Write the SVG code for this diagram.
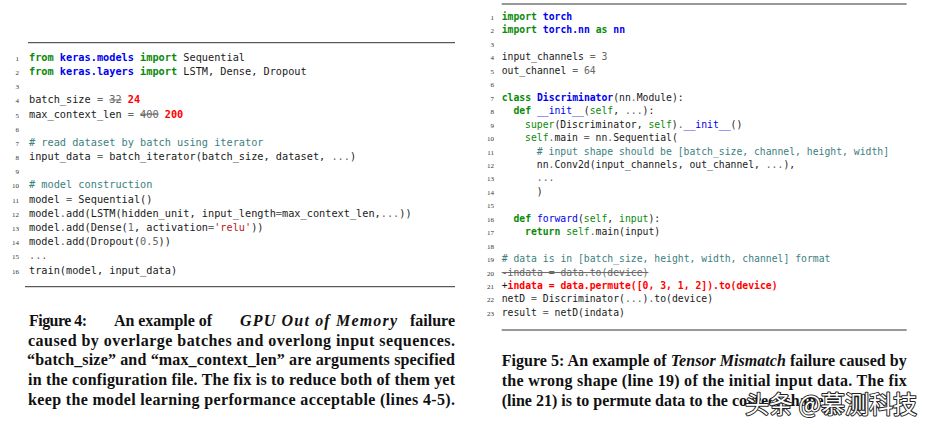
<svg xmlns="http://www.w3.org/2000/svg" width="927" height="428" viewBox="0 0 927 428">
<style>
.c{font-family:"DejaVu Sans Mono","Liberation Mono",monospace;fill:#1a1a1a}
.l{font-size:10.25px}
.r{font-size:9.75px}
.kw{fill:#0a8a0a;font-weight:bold}
.nm{fill:#0000ee;font-weight:bold}
.fn{fill:#0000ee}
.bi{fill:#0a8a0a}
.op{fill:#666}
.cm{fill:#3d8080}
.st{fill:#ba2121}
.red{fill:#ff0000;font-weight:bold}
.del{fill:#666;text-decoration:line-through}
.ln{font-family:"Liberation Serif",serif;font-size:7px;fill:#333;text-anchor:end}
.rule{stroke:#333;stroke-width:1}
.cap{font-family:"Liberation Serif","Times New Roman",serif;font-size:16px;font-weight:bold;fill:#111}
.it{font-style:italic}
.wm{font-family:"Noto Sans CJK SC","Noto Sans",sans-serif;font-size:24px;fill:#fff;stroke:#222;stroke-width:2;paint-order:stroke;stroke-linejoin:round}
</style>
<rect width="927" height="428" fill="#fff"/>

<g id="listing-left">
<line class="rule" x1="28" y1="42.7" x2="455" y2="42.7"/>
<line class="rule" x1="25" y1="286.7" x2="455" y2="286.7"/>
<g class="ln">
<text x="19" y="60.8">1</text><text x="19" y="75">2</text><text x="19" y="89.2">3</text><text x="19" y="103.3">4</text>
<text x="19" y="117.5">5</text><text x="19" y="131.7">6</text><text x="19" y="145.9">7</text><text x="19" y="160.1">8</text>
<text x="19" y="174.2">9</text><text x="19" y="188.4">10</text><text x="19" y="202.6">11</text><text x="19" y="216.8">12</text>
<text x="19" y="231">13</text><text x="19" y="245.1">14</text><text x="19" y="259.3">15</text><text x="19" y="273.5">16</text>
</g>
<g class="c l">
<text x="29" y="60.8"><tspan class="kw">from</tspan> <tspan class="nm">keras.models</tspan> <tspan class="kw">import</tspan> Sequential</text>
<text x="29" y="75"><tspan class="kw">from</tspan> <tspan class="nm">keras.layers</tspan> <tspan class="kw">import</tspan> LSTM, Dense, Dropout</text>
<text x="29" y="103.3">batch_size <tspan class="op">=</tspan> <tspan class="del">32</tspan> <tspan class="red">24</tspan></text>
<text x="29" y="117.5">max_context_len <tspan class="op">=</tspan> <tspan class="del">400</tspan> <tspan class="red">200</tspan></text>
<text x="29" y="145.9" class="cm"># read dataset by batch using iterator</text>
<text x="29" y="160.1">input_data <tspan class="op">=</tspan> batch_iterator(batch_size, dataset, <tspan class="op">...</tspan>)</text>
<text x="29" y="188.4" class="cm"># model construction</text>
<text x="29" y="202.6">model <tspan class="op">=</tspan> Sequential()</text>
<text x="29" y="216.8">model<tspan class="op">.</tspan>add(LSTM(hidden_unit, input_length<tspan class="op">=</tspan>max_context_len,<tspan class="op">...</tspan>))</text>
<text x="29" y="231">model<tspan class="op">.</tspan>add(Dense(<tspan class="op">1</tspan>, activation<tspan class="op">=</tspan><tspan class="st">'relu'</tspan>))</text>
<text x="29" y="245.1">model<tspan class="op">.</tspan>add(Dropout(<tspan class="op">0.5</tspan>))</text>
<text x="29" y="259.3" class="op">...</text>
<text x="29" y="273.5">train(model, input_data)</text>
</g>
</g>

<g id="listing-right">
<line class="rule" x1="501.7" y1="4" x2="906.7" y2="4"/>
<line class="rule" x1="501.7" y1="330" x2="906.7" y2="330"/>
<g class="ln">
<text x="494" y="20">1</text><text x="494" y="33.45">2</text><text x="494" y="46.9">3</text><text x="494" y="60.35">4</text>
<text x="494" y="73.8">5</text><text x="494" y="87.25">6</text><text x="494" y="100.7">7</text><text x="494" y="114.15">8</text>
<text x="494" y="127.6">9</text><text x="494" y="141.05">10</text><text x="494" y="154.5">11</text><text x="494" y="167.95">12</text>
<text x="494" y="181.4">13</text><text x="494" y="194.85">14</text><text x="494" y="208.3">15</text><text x="494" y="221.75">16</text>
<text x="494" y="235.2">17</text><text x="494" y="248.65">18</text><text x="494" y="262.1">19</text><text x="494" y="275.55">20</text>
<text x="494" y="289">21</text><text x="494" y="302.45">22</text><text x="494" y="315.9">23</text>
</g>
<g class="c r">
<text x="501.7" y="20"><tspan class="kw">import</tspan> <tspan class="nm">torch</tspan></text>
<text x="501.7" y="33.45"><tspan class="kw">import</tspan> <tspan class="nm">torch.nn</tspan> <tspan class="kw">as</tspan> <tspan class="nm">nn</tspan></text>
<text x="501.7" y="60.35">input_channels <tspan class="op">=</tspan> <tspan class="op">3</tspan></text>
<text x="501.7" y="73.8">out_channel <tspan class="op">=</tspan> <tspan class="op">64</tspan></text>
<text x="501.7" y="100.7"><tspan class="kw">class</tspan> <tspan class="nm">Discriminator</tspan>(nn<tspan class="op">.</tspan>Module):</text>
<text x="513.4" y="114.15"><tspan class="kw">def</tspan> <tspan class="fn">__init__</tspan>(<tspan class="bi">self</tspan>, <tspan class="op">...</tspan>):</text>
<text x="525.1" y="127.6"><tspan class="bi">super</tspan>(Discriminator, <tspan class="bi">self</tspan>)<tspan class="op">.</tspan><tspan class="fn">__init__</tspan>()</text>
<text x="525.1" y="141.05"><tspan class="bi">self</tspan><tspan class="op">.</tspan>main <tspan class="op">=</tspan> nn<tspan class="op">.</tspan>Sequential(</text>
<text x="536.8" y="154.5" class="cm"># input shape should be [batch_size, channel, height, width]</text>
<text x="536.8" y="167.95">nn<tspan class="op">.</tspan>Conv2d(input_channels, out_channel, <tspan class="op">...</tspan>),</text>
<text x="536.8" y="181.4" class="op">...</text>
<text x="536.8" y="194.85">)</text>
<text x="513.4" y="221.75"><tspan class="kw">def</tspan> <tspan class="fn">forward</tspan>(<tspan class="bi">self</tspan>, <tspan class="bi">input</tspan>):</text>
<text x="525.1" y="235.2"><tspan class="kw">return</tspan> <tspan class="bi">self</tspan><tspan class="op">.</tspan>main(input)</text>
<text x="501.7" y="262.1" class="cm"># data is in [batch_size, height, width, channel] format</text>
<text x="501.7" y="275.55" class="del">-indata = data.to(device)</text>
<text x="501.7" y="289">+<tspan class="red">indata = data.permute([0, 3, 1, 2]).to(device)</tspan></text>
<text x="501.7" y="302.45">netD <tspan class="op">=</tspan> Discriminator(<tspan class="op">...</tspan>)<tspan class="op">.</tspan>to(device)</text>
<text x="501.7" y="315.9">result <tspan class="op">=</tspan> netD(indata)</text>
</g>
</g>

<g id="caption-left" class="cap">
<text x="29" y="326" textLength="58" lengthAdjust="spacing">Figure 4:</text>
<text x="114" y="326" textLength="98" lengthAdjust="spacing">An example of</text>
<text x="240" y="326" class="it" textLength="157" lengthAdjust="spacing">GPU Out of Memory</text>
<text x="455" y="326" text-anchor="end">failure</text>
<text x="28" y="345.5" textLength="427" lengthAdjust="spacing">caused by overlarge batches and overlong input sequences.</text>
<text x="27" y="365" textLength="428" lengthAdjust="spacing">“batch_size” and “max_context_len” are arguments specified</text>
<text x="28" y="385" textLength="427" lengthAdjust="spacing">in the configuration file. The fix is to reduce both of them yet</text>
<text x="28" y="404.5" textLength="427" lengthAdjust="spacing">keep the model learning performance acceptable (lines 4-5).</text>
</g>

<g id="caption-right" class="cap">
<text x="501.7" y="366" textLength="405" lengthAdjust="spacing">Figure 5:  An example of <tspan class="it">Tensor Mismatch</tspan> failure caused by</text>
<text x="501.7" y="386" textLength="405" lengthAdjust="spacing">the wrong shape (line 19) of the initial input data. The fix</text>
<text x="501.7" y="406">(line 21) is to permute data to the correct shape.</text>
</g>

<g id="watermark">
<text x="745" y="413" class="wm">头条 @慕测科技</text>
</g>
</svg>
